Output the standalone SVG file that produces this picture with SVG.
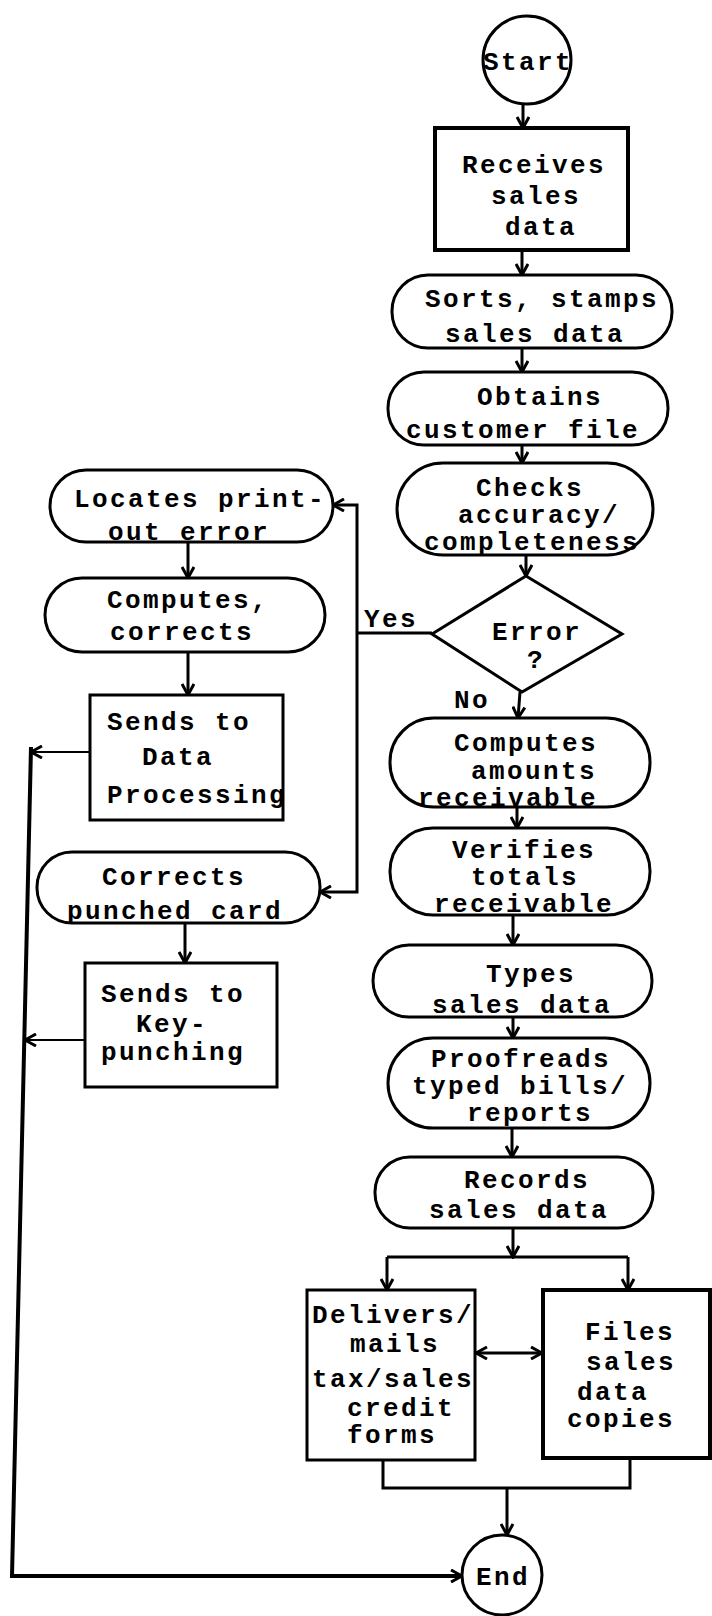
<svg xmlns="http://www.w3.org/2000/svg" width="712" height="1616" viewBox="0 0 712 1616">
<style>
.n{fill:#fff;stroke:#000;stroke-width:3}
.t{font-family:"Liberation Mono","Courier New",monospace;font-size:26px;letter-spacing:2.4px;font-weight:bold;fill:#000;text-anchor:middle}
.c{fill:none;stroke:#000;stroke-width:3}
.a{marker-end:url(#ah)}
</style>
<defs>
<marker id="ah" viewBox="0 0 14 14" refX="12" refY="7" markerWidth="14" markerHeight="14" markerUnits="userSpaceOnUse" orient="auto-start-reverse">
<path d="M1,1 L12,7 L1,13" fill="none" stroke="#000" stroke-width="3"/>
</marker>
</defs>
<rect width="712" height="1616" fill="#fff"/>
<g id="connectors">
<line class="c a" x1="523" y1="104" x2="523" y2="128"/>
<line class="c a" x1="522" y1="250" x2="522" y2="275"/>
<line class="c a" x1="522" y1="348" x2="522" y2="372"/>
<line class="c a" x1="522" y1="445" x2="522" y2="463"/>
<line class="c a" x1="526" y1="555" x2="526" y2="576"/>
<line class="c a" x1="520" y1="692" x2="518" y2="718"/>
<line class="c a" x1="517" y1="807" x2="517" y2="828"/>
<line class="c a" x1="513" y1="915" x2="513" y2="945"/>
<line class="c a" x1="513" y1="1017" x2="513" y2="1038"/>
<line class="c a" x1="512" y1="1128" x2="512" y2="1157"/>
<line class="c a" x1="513" y1="1228" x2="513" y2="1257"/>
<polyline class="c" points="387,1257 628,1257"/>
<line class="c a" x1="387" y1="1257" x2="387" y2="1290"/>
<line class="c a" x1="628" y1="1257" x2="628" y2="1290"/>
<line class="c a" x1="476" y1="1353" x2="542" y2="1353" marker-start="url(#ah)"/>
<polyline class="c" points="383,1460 383,1488 630,1488 630,1458"/>
<line class="c a" x1="507" y1="1488" x2="507" y2="1535"/>
<polyline class="c" points="432,633 357,633"/>
<polyline class="c a" points="357,633 357,505 333,505"/>
<polyline class="c a" points="357,633 357,892 320,892"/>
<line class="c a" x1="188" y1="542" x2="188" y2="578"/>
<line class="c a" x1="188" y1="652" x2="188" y2="695"/>
<line class="c a" x1="185" y1="923" x2="185" y2="963"/>
<line class="c a" x1="90" y1="752" x2="31" y2="752" style="stroke-width:2"/>
<line class="c a" x1="85" y1="1040" x2="25" y2="1040" style="stroke-width:2"/>
<polyline class="c a" points="31,747 12,1576 462,1576" style="stroke-width:4"/>
<text class="t" x="391" y="627">Yes</text>
<text class="t" x="472" y="708">No</text>
</g>
<g id="start">
<circle class="n" cx="527" cy="60" r="44"/>
<text class="t" x="528" y="70">Start</text>
</g>
<g id="receives">
<rect class="n" x="435" y="128" width="193" height="122" style="stroke-width:4"/>
<text class="t" x="534" y="173">Receives</text>
<text class="t" x="536" y="204">sales</text>
<text class="t" x="541" y="235">data</text>
</g>
<g id="sorts">
<rect class="n" x="392" y="275" width="280" height="73" rx="36"/>
<text class="t" x="542" y="307">Sorts, stamps</text>
<text class="t" x="535" y="342">sales data</text>
</g>
<g id="obtains">
<rect class="n" x="388" y="372" width="280" height="73" rx="36"/>
<text class="t" x="540" y="405">Obtains</text>
<text class="t" x="523" y="438">customer file</text>
</g>
<g id="checks">
<rect class="n" x="397" y="463" width="256" height="92" rx="46"/>
<text class="t" x="530" y="496">Checks</text>
<text class="t" x="539" y="523">accuracy/</text>
<text class="t" x="532" y="550">completeness</text>
</g>
<g id="error">
<polygon class="n" points="526,576 622,634 522,692 432,634"/>
<text class="t" x="537" y="640">Error</text>
<text class="t" x="536" y="668">?</text>
</g>
<g id="computes-amounts">
<rect class="n" x="390" y="718" width="260" height="89" rx="44"/>
<text class="t" x="526" y="751">Computes</text>
<text class="t" x="534" y="779">amounts</text>
<text class="t" x="508" y="806">receivable</text>
</g>
<g id="verifies">
<rect class="n" x="390" y="828" width="260" height="87" rx="43"/>
<text class="t" x="524" y="858">Verifies</text>
<text class="t" x="525" y="885">totals</text>
<text class="t" x="524" y="912">receivable</text>
</g>
<g id="types">
<rect class="n" x="373" y="945" width="279" height="72" rx="36"/>
<text class="t" x="531" y="982">Types</text>
<text class="t" x="522" y="1013">sales data</text>
</g>
<g id="proofreads">
<rect class="n" x="388" y="1038" width="262" height="90" rx="45"/>
<text class="t" x="521" y="1067">Proofreads</text>
<text class="t" x="520" y="1094">typed bills/</text>
<text class="t" x="530" y="1121">reports</text>
</g>
<g id="records">
<rect class="n" x="375" y="1157" width="278" height="71" rx="35"/>
<text class="t" x="527" y="1188">Records</text>
<text class="t" x="519" y="1218">sales data</text>
</g>
<g id="delivers">
<rect class="n" x="307" y="1290" width="168" height="170"/>
<text class="t" x="393" y="1323">Delivers/</text>
<text class="t" x="395" y="1352">mails</text>
<text class="t" x="393" y="1387">tax/sales</text>
<text class="t" x="401" y="1416">credit</text>
<text class="t" x="392" y="1443">forms</text>
</g>
<g id="files">
<rect class="n" x="543" y="1290" width="167" height="168" style="stroke-width:4"/>
<text class="t" x="630" y="1340">Files</text>
<text class="t" x="631" y="1370">sales</text>
<text class="t" x="613" y="1400">data</text>
<text class="t" x="621" y="1427">copies</text>
</g>
<g id="end">
<circle class="n" cx="502" cy="1575" r="40"/>
<text class="t" x="503" y="1585">End</text>
</g>
<g id="locates">
<rect class="n" x="50" y="470" width="283" height="72" rx="36"/>
<text class="t" x="200" y="507">Locates print-</text>
<text class="t" x="189" y="540">out error</text>
</g>
<g id="computes-corrects">
<rect class="n" x="45" y="578" width="280" height="74" rx="37"/>
<text class="t" x="188" y="608">Computes,</text>
<text class="t" x="182" y="640">corrects</text>
</g>
<g id="sends-dp">
<rect class="n" x="90" y="695" width="193" height="125"/>
<text class="t" x="179" y="730">Sends to</text>
<text class="t" x="178" y="765">Data</text>
<text class="t" x="197" y="803">Processing</text>
</g>
<g id="corrects-card">
<rect class="n" x="37" y="852" width="283" height="71" rx="35"/>
<text class="t" x="174" y="885">Corrects</text>
<text class="t" x="175" y="919">punched card</text>
</g>
<g id="sends-kp">
<rect class="n" x="85" y="963" width="192" height="124"/>
<text class="t" x="173" y="1002">Sends to</text>
<text class="t" x="172" y="1032">Key-</text>
<text class="t" x="173" y="1060">punching</text>
</g>
</svg>
